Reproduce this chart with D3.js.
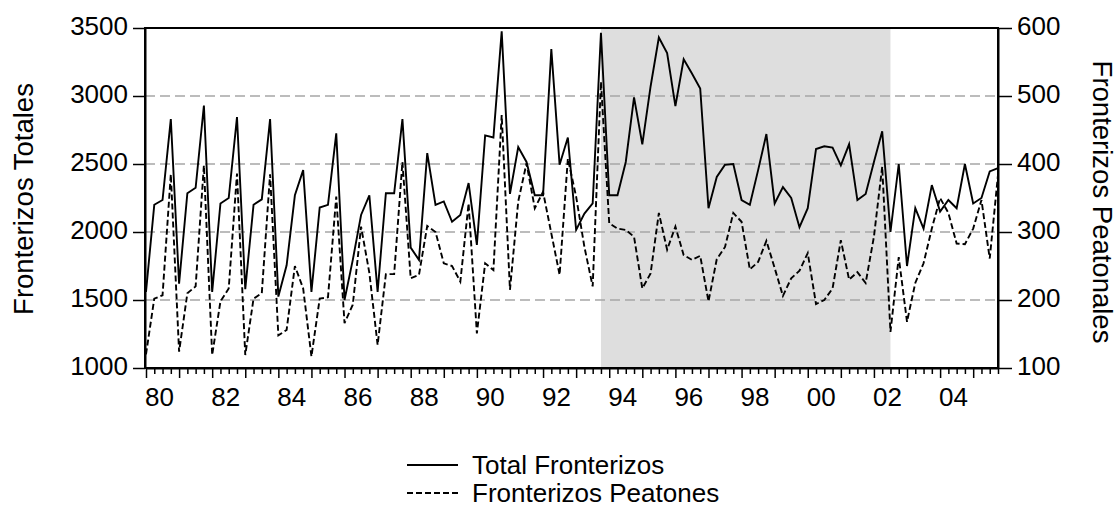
<!DOCTYPE html>
<html>
<head>
<meta charset="utf-8">
<script src="https://cdn.jsdelivr.net/npm/d3@7"></script>
<style>
  html, body { margin: 0; padding: 0; background: #fff; }
  svg { display: block; font-family: "Liberation Sans", Arial, sans-serif; }
</style>
</head>
<body>
<svg id="chart" width="1118" height="508"></svg>
<script>
// ---- data (quarterly, 1980Q1 .. 2005Q4) ----
const startYear = 1980;
const endYear = 2005;
const quarters = [];
for (let y = startYear; y <= endYear; y++) for (let q = 1; q <= 4; q++) quarters.push(y + "Q" + q);

const totalFronterizos = [
  1560, 2200, 2235, 2830, 1620, 2285, 2325, 2930, 1560, 2210, 2250, 2845,
  1580, 2200, 2240, 2830, 1525, 1755, 2270, 2455, 1560, 2180, 2200, 2725,
  1500, 1795, 2125, 2270, 1560, 2285, 2285, 2830, 1885, 1795, 2580, 2200,
  2225, 2075, 2125, 2360, 1905, 2710, 2695, 3475, 2280, 2625, 2515, 2270,
  2270, 3345, 2495, 2695, 2015, 2135, 2210, 3465, 2270, 2270, 2515, 2990,
  2645, 3070, 3430, 3315, 2925, 3270, 3165, 3055, 2175, 2405, 2495, 2500,
  2235, 2200, 2455, 2720, 2210, 2330, 2250, 2035, 2175, 2610, 2630, 2620,
  2490, 2645, 2235, 2280, 2515, 2740, 2000, 2500, 1750, 2175, 2025, 2345,
  2150, 2235, 2175, 2500, 2210, 2250, 2445, 2470
];
const fronterizosPeatones = [
  120, 202, 207, 385, 124, 210, 220, 398, 119, 198, 217, 386,
  119, 202, 210, 385, 148, 156, 250, 217, 117, 202, 204, 352,
  166, 193, 308, 240, 134, 238, 238, 403, 232, 237, 309, 300,
  254, 250, 227, 342, 151, 254, 244, 472, 215, 345, 401, 335,
  359, 298, 237, 408, 352, 278, 220, 521, 313, 305, 303, 293,
  217, 239, 328, 274, 308, 266, 259, 265, 198, 260, 278, 328,
  315, 245, 256, 287, 247, 206, 232, 243, 269, 194, 200, 217,
  288, 230, 241, 225, 293, 396, 153, 263, 168, 225, 254, 305,
  350, 328, 283, 282, 305, 347, 261, 384
];
const shadeRange = ["1993Q4", "2002Q3"];
const leftTicks = [1000, 1500, 2000, 2500, 3000, 3500];
const rightTicks = [100, 200, 300, 400, 500, 600];
const xLabelYears = [1980, 1982, 1984, 1986, 1988, 1990, 1992, 1994, 1996, 1998, 2000, 2002, 2004];
const xLabels = ["80", "82", "84", "86", "88", "90", "92", "94", "96", "98", "00", "02", "04"];
const seriesNames = ["Total Fronterizos", "Fronterizos Peatones"];
const axisTitles = ["Fronterizos Totales", "Fronterizos Peatonales"];

// ---- layout ----
const L = 145, R = 998, T = 28, B = 368;
const svg = d3.select("#chart");

const x = d3.scalePoint().domain(quarters).range([L + 1, R]);
const yL = d3.scaleLinear().domain([1000, 3500]).range([B, T]);
const yR = d3.scaleLinear().domain([100, 600]).range([B, T]);

// shading
svg.append("rect")
  .attr("x", x(shadeRange[0])).attr("y", T)
  .attr("width", x(shadeRange[1]) - x(shadeRange[0]))
  .attr("height", B - T)
  .attr("fill", "#dedede");

// gridlines
svg.append("g").selectAll("line")
  .data(leftTicks.filter(v => v > 1000 && v < 3500))
  .join("line")
  .attr("x1", L).attr("x2", R)
  .attr("y1", d => yL(d)).attr("y2", d => yL(d))
  .attr("stroke", "#a6a6a6").attr("stroke-width", 1.5)
  .attr("stroke-dasharray", "10,5");

// lines
const lineTotal = d3.line().x((d, i) => x(quarters[i])).y(d => yL(d));
const linePeat = d3.line().x((d, i) => x(quarters[i])).y(d => yR(d));

svg.append("path").datum(fronterizosPeatones)
  .attr("d", linePeat).attr("fill", "none")
  .attr("stroke", "#000").attr("stroke-width", 1.9)
  .attr("stroke-dasharray", "6,3");

svg.append("path").datum(totalFronterizos)
  .attr("d", lineTotal).attr("fill", "none")
  .attr("stroke", "#000").attr("stroke-width", 1.9);

// frame
svg.append("rect")
  .attr("x", L).attr("y", T).attr("width", R - L).attr("height", B - T)
  .attr("fill", "none").attr("stroke", "#000").attr("stroke-width", 2);

// left axis
const gL = svg.append("g").attr("transform", `translate(${L},0)`)
  .call(d3.axisLeft(yL).tickValues(leftTicks).tickSize(12).tickSizeOuter(0).tickPadding(5).tickFormat(d3.format("d")));
gL.select(".domain").attr("stroke-width", 2);
gL.selectAll(".tick line").attr("stroke-width", 1.5);
gL.selectAll(".tick text").attr("font-size", 26).attr("dy", "0.24em")
  .attr("font-family", "Liberation Sans, Arial, sans-serif").attr("fill", "#000");

// right axis
const gR = svg.append("g").attr("transform", `translate(${R},0)`)
  .call(d3.axisRight(yR).tickValues(rightTicks).tickSize(14).tickSizeOuter(0).tickPadding(5).tickFormat(d3.format("d")));
gR.select(".domain").attr("stroke-width", 2);
gR.selectAll(".tick line").attr("stroke-width", 1.5);
gR.selectAll(".tick text").attr("font-size", 26).attr("dy", "0.24em")
  .attr("font-family", "Liberation Sans, Arial, sans-serif").attr("fill", "#000");

// bottom axis: minor quarter ticks
const gBm = svg.append("g").attr("transform", `translate(0,${B})`)
  .call(d3.axisBottom(x).tickValues(quarters.filter(q => !q.endsWith("Q1"))).tickSize(6).tickSizeOuter(0).tickFormat(""));
gBm.select(".domain").attr("stroke-width", 2);
gBm.selectAll(".tick line").attr("stroke-width", 1.5);

// bottom axis: major year ticks
const gB = svg.append("g").attr("transform", `translate(0,${B})`)
  .call(d3.axisBottom(x).tickValues(quarters.filter(q => q.endsWith("Q1"))).tickSize(10).tickSizeOuter(0).tickFormat(""));
gB.select(".domain").remove();
gB.selectAll(".tick line").attr("stroke-width", 1.5);

// year labels
svg.append("g").selectAll("text")
  .data(xLabelYears)
  .join("text")
  .attr("x", d => x(d + "Q1") - 1)
  .attr("y", B + 38)
  .attr("font-size", 26).attr("text-anchor", "start").attr("fill", "#000")
  .text((d, i) => xLabels[i]);

// axis titles
svg.append("text")
  .attr("transform", `translate(33,${(T + B) / 2 + 1}) rotate(-90)`)
  .attr("text-anchor", "middle").attr("font-size", 27.5).attr("fill", "#000")
  .text(axisTitles[0]);
svg.append("text")
  .attr("transform", `translate(1093,${(T + B) / 2 + 4}) rotate(90)`)
  .attr("text-anchor", "middle").attr("font-size", 27.5).attr("fill", "#000")
  .text(axisTitles[1]);

// legend
const leg = svg.append("g");
const legY = [465, 493];
leg.append("line").attr("x1", 407).attr("x2", 458).attr("y1", legY[0]).attr("y2", legY[0])
  .attr("stroke", "#000").attr("stroke-width", 1.8);
leg.append("line").attr("x1", 407).attr("x2", 460).attr("y1", legY[1]).attr("y2", legY[1])
  .attr("stroke", "#000").attr("stroke-width", 1.8).attr("stroke-dasharray", "6,3");
leg.selectAll("text").data(seriesNames).join("text")
  .attr("x", 472).attr("y", (d, i) => legY[i] + 9)
  .attr("font-size", 26).attr("fill", "#000")
  .text(d => d);
</script>
</body>
</html>
